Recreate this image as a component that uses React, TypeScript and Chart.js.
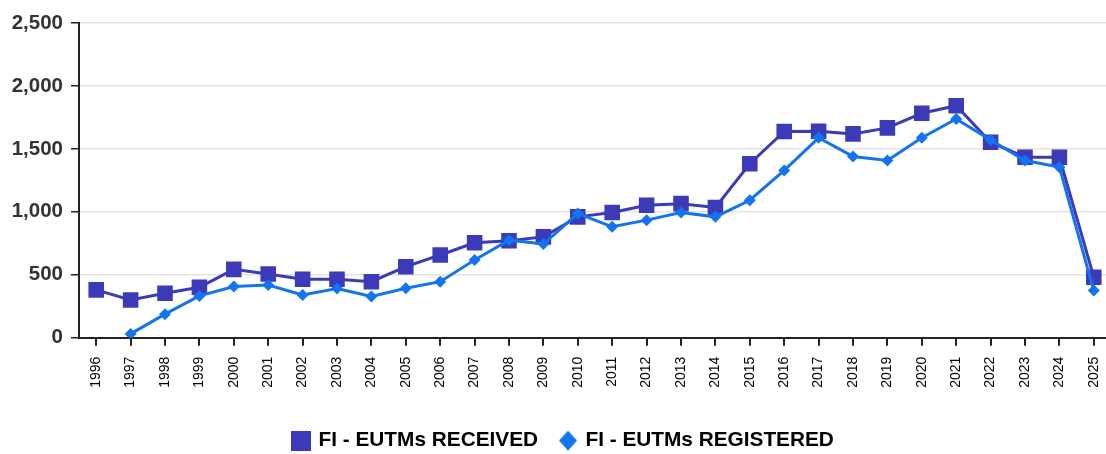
import React, { useEffect, useRef } from "react";
import { Chart, registerables } from "chart.js";

Chart.register(...registerables);

const years = [
  "1996", "1997", "1998", "1999", "2000", "2001", "2002", "2003", "2004", "2005",
  "2006", "2007", "2008", "2009", "2010", "2011", "2012", "2013", "2014", "2015",
  "2016", "2017", "2018", "2019", "2020", "2021", "2022", "2023", "2024", "2025",
];

const received = [
  380, 300, 353, 401, 543, 506, 464, 464, 445, 564,
  657, 754, 770, 801, 960, 994, 1052, 1065, 1034, 1382,
  1638, 1640, 1619, 1667, 1783, 1843, 1553, 1434, 1434, 480,
];

const registered = [
  null, 30, 187, 332, 406, 419, 340, 390, 327, 393,
  445, 617, 775, 744, 986, 881, 934, 994, 960, 1092,
  1329, 1588, 1440, 1408, 1588, 1738, 1571, 1408, 1355, 374,
];

const yTicks = [0, 500, 1000, 1500, 2000, 2500];

const seriesNames = ["FI - EUTMs RECEIVED", "FI - EUTMs REGISTERED"];
const receivedColor = "#3b3bb9";
const registeredColor = "#1473f0";

function makeSquare(color: string, size: number) {
  const c = document.createElement("canvas");
  c.width = size;
  c.height = size;
  const ctx = c.getContext("2d")!;
  ctx.fillStyle = color;
  ctx.fillRect(0, 0, size, size);
  return c;
}

function makeDiamond(color: string, w: number, h: number) {
  const c = document.createElement("canvas");
  c.width = w;
  c.height = h;
  const ctx = c.getContext("2d")!;
  ctx.fillStyle = color;
  ctx.beginPath();
  ctx.moveTo(w / 2, 0);
  ctx.lineTo(w, h / 2);
  ctx.lineTo(w / 2, h);
  ctx.lineTo(0, h / 2);
  ctx.closePath();
  ctx.fill();
  return c;
}

export default function App() {
  const ref = useRef<HTMLCanvasElement | null>(null);

  useEffect(() => {
    if (!ref.current) return;
    Chart.defaults.font.family = "'Liberation Sans', Arial, sans-serif";
    const sq = makeSquare(receivedColor, 20);
    const dm = makeDiamond(registeredColor, 18, 20);
    const chart = new Chart(ref.current, {
      type: "line",
      data: {
        labels: years,
        datasets: [
          {
            label: seriesNames[0],
            data: received,
            borderColor: receivedColor,
            backgroundColor: receivedColor,
            borderWidth: 3,
            pointStyle: "rect",
            pointRadius: 11,
            pointHoverRadius: 11,
            pointBorderWidth: 0,
            tension: 0,
            order: 1,
          },
          {
            label: seriesNames[1],
            data: registered,
            borderColor: registeredColor,
            backgroundColor: registeredColor,
            borderWidth: 3,
            pointStyle: "rectRot",
            pointRadius: 6,
            pointHoverRadius: 6,
            pointBorderWidth: 0,
            tension: 0,
            spanGaps: false,
            order: 0,
          },
        ],
      },
      options: {
        responsive: false,
        animation: false,
        layout: { padding: { top: 23, left: 6, right: 0, bottom: 0 } },
        plugins: {
          tooltip: { enabled: false },
          legend: {
            position: "bottom",
            labels: {
              usePointStyle: true,
              pointStyleWidth: 14,
              padding: 23,
              color: "#111",
              font: { size: 20.8, weight: "bold" },
              generateLabels: () => [
                {
                  text: seriesNames[0],
                  pointStyle: sq as any,
                  fillStyle: receivedColor,
                  strokeStyle: receivedColor,
                  lineWidth: 0,
                  hidden: false,
                  datasetIndex: 0,
                },
                {
                  text: seriesNames[1],
                  pointStyle: dm as any,
                  fillStyle: registeredColor,
                  strokeStyle: registeredColor,
                  lineWidth: 0,
                  hidden: false,
                  datasetIndex: 1,
                },
              ],
            },
          },
        },
        scales: {
          x: {
            offset: true,
            afterFit: (s: any) => {
              s.height = 69.5;
            },
            border: { display: true, color: "#222", width: 2 },
            grid: {
              drawOnChartArea: false,
              drawTicks: true,
              tickLength: 8,
              tickColor: "#222",
              lineWidth: 2,
            },
            ticks: {
              autoSkip: false,
              maxRotation: 90,
              minRotation: 90,
              padding: 11,
              color: "#000",
              font: { size: 14 },
            },
          },
          y: {
            min: 0,
            max: 2500,
            afterFit: (s: any) => {
              s.width = 73;
            },
            afterBuildTicks: (s: any) => {
              s.ticks = yTicks.map((v) => ({ value: v }));
            },
            border: { display: true, color: "#222", width: 2 },
            grid: {
              color: "#e4e4e4",
              lineWidth: 1.5,
              drawTicks: true,
              tickLength: 8,
              tickColor: "#222",
            },
            ticks: {
              padding: 8,
              color: "#333",
              font: { size: 20.5, weight: "bold" },
              callback: (v: any) => Number(v).toLocaleString("en-US"),
            },
          },
        },
      },
    });
    return () => chart.destroy();
  }, []);

  return (
    <div
      style={{
        position: "fixed",
        left: 0,
        top: 0,
        width: 1106,
        height: 454,
        overflow: "hidden",
        background: "#fff",
      }}
    >
      <canvas ref={ref} width={1122} height={461} style={{ width: 1122, height: 461, display: "block" }} />
    </div>
  );
}
